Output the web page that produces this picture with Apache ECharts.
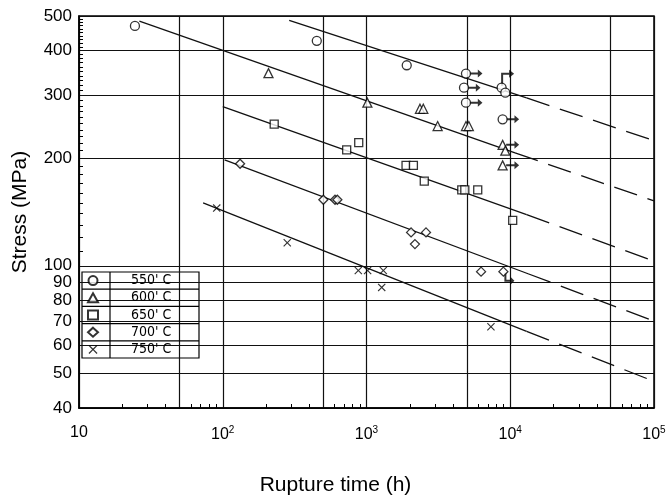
<!DOCTYPE html>
<html>
<head>
<meta charset="utf-8">
<script src="https://cdn.jsdelivr.net/npm/echarts@6/dist/echarts.min.js"></script>
<style>html,body{margin:0;padding:0;background:#fff}#c{width:669px;height:501px}</style>
</head>
<body>
<div id="c"></div>
<script>
// ---- tick values ----
const xGridTicks = [10, 50, 100, 500, 1000, 5000, 10000, 50000, 100000];
const xLabelTicks = [10, 100, 1000, 10000, 100000];
const xMinorTicks = [20, 30, 40, 60, 70, 80, 90, 200, 300, 400, 600, 700, 800, 900,
  2000, 3000, 4000, 6000, 7000, 8000, 9000, 20000, 30000, 40000, 60000, 70000, 80000, 90000];
const yGridTicks = [40, 50, 60, 70, 80, 90, 100, 200, 300, 400, 500];
const yMinorTicks = [110, 120, 130, 140, 150, 160, 170, 180, 190, 210, 220, 230, 240, 250, 260, 270, 280, 290,
  310, 320, 330, 340, 350, 360, 370, 380, 390, 410, 420, 430, 440, 450, 460, 470, 480, 490];

// ---- series names ----
const seriesNames = ["550' C", "600' C", "650' C", "700' C", "750' C"];

// ---- measured points: rupture time (h) and stress (MPa) ----
const t550 = [24.5, 451, 1905, 4920, 4767, 4920, 8710, 9240, 8850];
const s550 = [469, 426, 364, 345, 315, 286, 315, 305, 257];
const t600 = [208, 1014, 2355, 2484, 3125, 4920, 5150, 8850, 9240, 8850];
const s600 = [346, 286, 275, 275, 246, 246, 246, 218, 210, 191];
const t650 = [228, 728, 883, 1884, 2119, 2523, 4600, 4830, 5940, 10400];
const s650 = [249, 211, 221, 191, 191, 172.5, 163, 163, 163, 134];
const t700 = [132, 501, 604, 627, 2042, 2594, 2173, 6265, 8960];
const s700 = [193, 153, 153, 153, 124, 124, 115, 96.3, 96.3];
const t750 = [90.8, 281, 877, 1018, 1309, 1276, 7340];
const s750 = [145, 116, 97, 97, 97, 87, 67.5];

// ---- run-out (unbroken) specimens ----
const runRightT = [4920, 4767, 4920, 8850, 8850, 8850];
const runRightS = [345, 315, 286, 257, 218, 191];
const runUpT = [8710];
const runUpS = [315];
const runDownT = [8960];
const runDownS = [96.3];

// ---- fitted lines: start, end of solid part, extrapolated end ----
const line550T = [290, 13000, 100000];
const line550S = [486, 295, 224];
const line600T = [26.3, 10800, 100000];
const line600S = [484, 207, 152];
const line650T = [100, 13000, 100000];
const line650S = [279, 139, 103];
const line700T = [103, 13300, 100000];
const line700S = [198, 95, 70];
const line750T = [73, 13000, 100000];
const line750S = [150, 65.5, 47.5];

const pts = (t, s) => t.map((v, i) => [v, s[i]]);

const crossPath = 'path://M0,1 L1,0 L5,4 L9,0 L10,1 L6,5 L10,9 L9,10 L5,6 L1,10 L0,9 L4,5 Z';
const symbols = ['circle', 'triangle', 'rect', 'diamond', crossPath];
const symSizes = [9, 9, 8, 9, 8];
const pointSets = [pts(t550, s550), pts(t600, s600), pts(t650, s650), pts(t700, s700), pts(t750, s750)];
const lineSets = [pts(line550T, line550S), pts(line600T, line600S), pts(line650T, line650S),
  pts(line700T, line700S), pts(line750T, line750S)];

const series = [];
lineSets.forEach((L, i) => {
  series.push({
    name: 'fit' + i, type: 'line', data: [L[0], L[1]], showSymbol: false, symbol: 'none',
    lineStyle: { color: '#111', width: 1.3 }, silent: true, z: 2
  });
  series.push({
    name: 'ext' + i, type: 'line', data: [L[1], L[2]], showSymbol: false, symbol: 'none',
    lineStyle: { color: '#111', width: 1.3, type: [24, 11] }, silent: true, z: 2
  });
});
pointSets.forEach((P, i) => {
  const isCross = i === 4;
  series.push({
    name: seriesNames[i], type: 'scatter', data: P, symbol: symbols[i], symbolSize: symSizes[i],
    itemStyle: isCross ? { color: '#000' } : { color: '#fff', borderColor: '#000', borderWidth: 1.3 },
    z: 5
  });
});
series.push({
  name: 'runRight', type: 'scatter', data: pts(runRightT, runRightS),
  symbol: 'path://M0,4 L9,4 L9,1 L14,5 L9,9 L9,6 L0,6 Z', symbolSize: [13, 8], symbolOffset: [10, 0],
  itemStyle: { color: '#000' }, silent: true, z: 4
});
series.push({
  name: 'runUp', type: 'scatter', data: pts(runUpT, runUpS),
  symbol: 'path://M0,16 L0,3 L8,3 L8,0 L13,4 L8,8 L8,5 L2,5 L2,16 Z', symbolSize: [13, 16], symbolOffset: [6, -10],
  itemStyle: { color: '#000' }, silent: true, z: 4
});
series.push({
  name: 'runDown', type: 'scatter', data: pts(runDownT, runDownS),
  symbol: 'path://M0,0 L2,0 L2,7 L6,7 L6,4 L10,8 L6,12 L6,9 L0,9 Z', symbolSize: [10, 12], symbolOffset: [6, 7],
  itemStyle: { color: '#000' }, silent: true, z: 4
});

const FONT = "'Liberation Sans', Arial, Helvetica, sans-serif";
const NARROW = "'Liberation Sans Narrow', 'DejaVu Sans Condensed', 'Roboto Condensed', sans-serif";
const chart = echarts.init(document.getElementById('c'), null, { renderer: 'canvas' });
chart.setOption({
  animation: false,
  backgroundColor: '#fff',
  grid: { left: 79, right: 15, top: 16, bottom: 86, show: true, borderColor: '#000', borderWidth: 1.5, backgroundColor: 'transparent' },
  legend: {
    data: seriesNames,
    orient: 'vertical', left: 84, top: 272, padding: [0, 0, 0, 3],
    itemWidth: 10, itemHeight: 9, itemGap: 0,
    textStyle: { fontFamily: NARROW, fontSize: 14, color: '#000', lineHeight: 17.2, padding: [0, 0, 0, 28] },
    selectedMode: false
  },
  graphic: [
    { type: 'rect', shape: { x: 82, y: 272, width: 117, height: 86 }, style: { fill: '#fff', stroke: '#000', lineWidth: 1.2 }, z: 0, zlevel: 0 },
    { type: 'line', shape: { x1: 110, y1: 272, x2: 110, y2: 358 }, style: { stroke: '#000', lineWidth: 1.2 }, z: 100 },
    { type: 'line', shape: { x1: 82, y1: 289.2, x2: 199, y2: 289.2 }, style: { stroke: '#000', lineWidth: 1.2 }, z: 100 },
    { type: 'line', shape: { x1: 82, y1: 306.4, x2: 199, y2: 306.4 }, style: { stroke: '#000', lineWidth: 1.2 }, z: 100 },
    { type: 'line', shape: { x1: 82, y1: 323.6, x2: 199, y2: 323.6 }, style: { stroke: '#000', lineWidth: 1.2 }, z: 100 },
    { type: 'line', shape: { x1: 82, y1: 340.8, x2: 199, y2: 340.8 }, style: { stroke: '#000', lineWidth: 1.2 }, z: 100 }
  ],
  xAxis: [{
    type: 'log', logBase: 10, min: 10, max: 100000,
    name: 'Rupture time (h)', nameLocation: 'middle', nameGap: 67,
    nameTextStyle: { fontFamily: FONT, fontSize: 21, color: '#000', padding: [0, 62, 0, 0] },
    axisLine: { show: true, lineStyle: { color: '#000', width: 1.5 } },
    axisTick: { show: true, inside: true, length: 4, customValues: xMinorTicks, lineStyle: { color: '#000', width: 1 } },
    axisLabel: {
      customValues: xLabelTicks, margin: 17, color: '#000', fontFamily: FONT, fontSize: 16,
      formatter: v => v <= 10 ? '10' : '10{sup|' + Math.round(Math.log10(v)) + '}',
      rich: { sup: { fontSize: 10, fontFamily: FONT, color: '#000', verticalAlign: 'top', padding: [0, 0, 9, 0] } }
    },
    splitLine: { show: false }
  }, {
    type: 'log', logBase: 10, min: 10, max: 100000, position: 'top',
    axisLine: { show: false }, axisLabel: { show: false },
    axisTick: { show: false, customValues: xGridTicks },
    splitLine: { show: true, lineStyle: { color: '#111', width: 1.2 } }
  }],
  yAxis: [{
    type: 'log', logBase: 10, min: 40, max: 500,
    name: 'Stress (MPa)', nameLocation: 'middle', nameGap: 48, nameRotate: 90,
    nameTextStyle: { fontFamily: FONT, fontSize: 21, color: '#000' },
    axisLine: { show: true, lineStyle: { color: '#000', width: 1.5 } },
    axisTick: { show: true, inside: true, length: 4, customValues: yMinorTicks, lineStyle: { color: '#000', width: 1 } },
    axisLabel: { customValues: yGridTicks, margin: 7, color: '#000', fontFamily: FONT, fontSize: 17 },
    splitLine: { show: false }
  }, {
    type: 'log', logBase: 10, min: 40, max: 500, position: 'right',
    axisLine: { show: false }, axisLabel: { show: false },
    axisTick: { show: false, customValues: yGridTicks },
    splitLine: { show: true, lineStyle: { color: '#111', width: 1.2 } }
  }],
  series: series
});
</script>
</body>
</html>
